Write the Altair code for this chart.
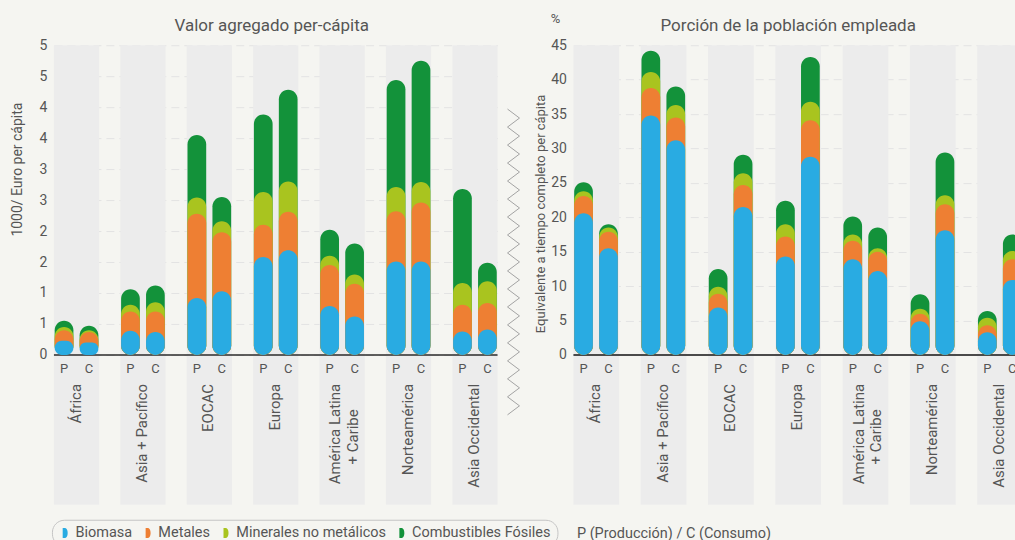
import altair as alt
import pandas as pd

# ---------------- data ----------------
regions = ["África", "Asia + Pacífico", "EOCAC", "Europa",
           "América Latina + Caribe", "Norteamérica", "Asia Occidental"]
label_line1 = ["África", "Asia + Pacífico", "EOCAC", "Europa",
               "América Latina", "Norteamérica", "Asia Occidental"]
label_line2 = ["", "", "", "", "+ Caribe", "", ""]
types = ["P", "C"]
components = ["Biomasa", "Metales", "Minerales no metálicos", "Combustibles Fósiles"]
colors = ["#29abe2", "#ee7f33", "#a9c41f", "#13923a"]

# Valor agregado per-cápita (1000 Euro per cápita)
va_biomasa_P = [0.23, 0.39, 0.92, 1.58, 0.79, 1.51, 0.38]
va_biomasa_C = [0.20, 0.37, 1.03, 1.69, 0.62, 1.51, 0.41]
va_metales_P = [0.17, 0.31, 1.36, 0.52, 0.66, 0.81, 0.43]
va_metales_C = [0.17, 0.33, 0.95, 0.62, 0.53, 0.95, 0.43]
va_minerales_P = [0.05, 0.11, 0.26, 0.53, 0.15, 0.39, 0.35]
va_minerales_C = [0.03, 0.15, 0.18, 0.49, 0.15, 0.33, 0.35]
va_fosiles_P = [0.10, 0.25, 1.01, 1.25, 0.42, 1.73, 1.52]
va_fosiles_C = [0.07, 0.27, 0.39, 1.48, 0.50, 1.96, 0.30]

# Porción de la población empleada (%)
em_biomasa_P = [20.6, 34.8, 6.9, 14.3, 13.9, 4.9, 3.3]
em_biomasa_C = [15.5, 31.2, 21.5, 28.8, 12.2, 18.1, 10.9]
em_metales_P = [2.5, 4.0, 2.0, 2.9, 2.7, 1.1, 1.0]
em_metales_C = [2.4, 3.3, 3.2, 5.3, 2.8, 3.8, 3.0]
em_minerales_P = [0.7, 2.3, 1.0, 1.8, 0.9, 0.7, 1.1]
em_minerales_C = [0.6, 1.8, 1.7, 2.7, 0.5, 1.3, 1.2]
em_fosiles_P = [1.3, 3.1, 2.6, 3.4, 2.6, 2.1, 1.0]
em_fosiles_C = [0.5, 2.7, 2.7, 6.5, 3.0, 6.2, 2.4]

# decorative zig-zag separator
zig_x = [0, 1, 0, 1, 0, 1, 0, 1, 0, 1, 0, 1, 0, 1, 0, 1, 0, 1,
         0, 1, 0, 1, 0, 1, 0, 1, 0, 1, 0, 1, 0, 1, 0, 1, 0]
zig_y = list(range(len(zig_x)))

TEXT = "#555555"
FONT = "Roboto"


def stacked_rows(P, C):
    rows = []
    for t, series in (("P", P), ("C", C)):
        for i, reg in enumerate(regions):
            cum = 0.0
            for k, comp in enumerate(components):
                cum += series[k][i]
                rows.append({"region": reg, "type": t, "component": comp,
                             "top": round(cum, 3), "draw": 3 - k})
    return pd.DataFrame(rows).sort_values("draw", kind="stable")


legend = alt.Legend(
    title=None, orient="none", legendX=-2, legendY=475, direction="horizontal",
    symbolType="M-0.5,-1L0,-1A0.5,1 0 0 1 0,1L-0.5,1Z", symbolSize=100,
    symbolStrokeWidth=0, labelFont=FONT, labelFontSize=14.5, labelColor=TEXT,
    strokeColor="#c4c4c4", cornerRadius=12, padding=6, symbolOffset=0,
    columnPadding=8, labelOffset=3,
)


def panel(df, title, title_dx, ymin, ymax, yvals, ylabel_expr, ytitle, ytitle_size,
          ytitle_x, ytitle_y, width, xaxis, zero_color, zero_width):
    xscale = alt.Scale(domain=regions, paddingInner=0.32, paddingOuter=0)
    oscale = alt.Scale(domain=types, paddingInner=0.25, paddingOuter=0.03)
    yscale = alt.Scale(domain=[ymin, ymax], nice=False)
    yaxis = alt.Axis(values=yvals, labelExpr=ylabel_expr, labelOverlap=False,
                     title=ytitle, titleFont=FONT,
                     titleFontSize=ytitle_size, titleFontWeight="normal",
                     titleColor=TEXT, titleX=ytitle_x, titleY=ytitle_y,
                     titleAngle=270, titleAlign="right", titleBaseline="middle",
                     labelFont=FONT, labelFontSize=14, labelColor=TEXT,
                     labelPadding=7, ticks=False, domain=False, grid=True,
                     gridColor="#e3e3e3", gridDash=[8, 5], gridWidth=1)

    bands = alt.Chart(pd.DataFrame({"region": regions})).mark_rect(color="#ececec").encode(
        x=alt.X("region:N", sort=regions, scale=xscale, axis=xaxis),
        y=alt.Y(datum=ymax, scale=yscale, axis=yaxis),
        y2=alt.Y2(datum=ymin),
    )
    bars = alt.Chart(df).mark_bar(cornerRadius=10).encode(
        x=alt.X("region:N", sort=regions, axis=xaxis),
        xOffset=alt.XOffset("type:N", sort=types, scale=oscale),
        y=alt.Y("top:Q", stack=None, axis=yaxis),
        y2=alt.Y2(datum=0),
        color=alt.Color("component:N", scale=alt.Scale(domain=components, range=colors),
                        legend=legend),
        order=alt.Order("draw:Q"),
    )
    zero = alt.Chart(pd.DataFrame({"z": [0]})).mark_rule(
        color=zero_color, strokeWidth=zero_width).encode(y=alt.Y("z:Q", axis=yaxis))

    pc = pd.DataFrame([{"region": r, "type": t} for r in regions for t in types])
    pc_text = alt.Chart(pc).mark_text(dy=14, font=FONT, fontSize=13, color=TEXT,
                                      baseline="middle").encode(
        x=alt.X("region:N", sort=regions, axis=xaxis),
        xOffset=alt.XOffset("type:N", sort=types),
        y=alt.Y(datum=0, axis=yaxis),
        text="type:N",
    )

    lab = pd.DataFrame({"region": regions, "l1": label_line1, "l2": label_line2})
    single = alt.Chart(lab).transform_filter("datum.l2 == ''").mark_text(
        angle=270, align="right", baseline="middle", dx=-29, dy=-1,
        font=FONT, fontSize=15, color=TEXT).encode(
        x=alt.X("region:N", sort=regions, axis=xaxis),
        y=alt.Y(datum=0, axis=yaxis), text="l1:N")
    double1 = alt.Chart(lab).transform_filter("datum.l2 != ''").mark_text(
        angle=270, align="right", baseline="middle", dx=-29, dy=-7,
        font=FONT, fontSize=15, color=TEXT).encode(
        x=alt.X("region:N", sort=regions, axis=xaxis),
        y=alt.Y(datum=0, axis=yaxis), text="l1:N")
    double2 = alt.Chart(lab).transform_filter("datum.l2 != ''").mark_text(
        angle=270, align="center", baseline="middle", dx=-82, dy=11,
        font=FONT, fontSize=15, color=TEXT).encode(
        x=alt.X("region:N", sort=regions, axis=xaxis),
        y=alt.Y(datum=0, axis=yaxis), text="l2:N")

    return alt.layer(bands, zero, bars, pc_text, single, double1, double2).properties(
        width=width, height=460,
        title=alt.TitleParams(title, font=FONT, fontSize=17, fontWeight="normal",
                              color=TEXT, frame="group", baseline="alphabetic",
                              offset=-10, dx=title_dx),
    )


va_df = stacked_rows([va_biomasa_P, va_metales_P, va_minerales_P, va_fosiles_P],
                     [va_biomasa_C, va_metales_C, va_minerales_C, va_fosiles_C])
em_df = stacked_rows([em_biomasa_P, em_metales_P, em_minerales_P, em_fosiles_P],
                     [em_biomasa_C, em_metales_C, em_minerales_C, em_fosiles_C])

left = panel(va_df, "Valor agregado per-cápita", -4, -2.419, 5,
             [0, 0.5, 1, 1.5, 2, 2.5, 3, 3.5, 4, 4.5, 5], "'' + round(datum.value)",
             "1000/ Euro per cápita", 14, -36, 57, 444, None, "#2b2b2b", 1.5)

right_xaxis = alt.Axis(labels=False, ticks=False, domain=False, grid=False,
                       title="P (Producción) / C (Consumo)", titleFont=FONT,
                       titleFontSize=14.5, titleFontWeight="normal", titleColor=TEXT,
                       titleAnchor="start", titleAlign="left", titleBaseline="middle",
                       titleX=3, titleY=29)

right = panel(em_df, "Porción de la población empleada", -10, -21.77, 45,
              list(range(0, 50, 5)), "'' + round(datum.value)",
              "Equivalente a tiempo completo per cápita", 13, -33, 49, 450,
              right_xaxis, "#4a4a4a", 2)

# zig-zag panel: 56 px wide, the line itself occupies its first 12 px;
# it also carries the "%" unit note that sits above the right-hand axis
zig_line = alt.Chart(pd.DataFrame({"zx": zig_x, "zy": zig_y})).mark_line(
    color="#a3a3a3", strokeWidth=1).encode(
    x=alt.X("zx:Q", axis=None, scale=alt.Scale(domain=[0, 56 / 12])),
    y=alt.Y("zy:Q", axis=None, scale=alt.Scale(domain=[-7.1, 44], reverse=True)),
    order="zy:Q",
)
pct = alt.Chart(pd.DataFrame({"t": ["%"]})).mark_text(
    font=FONT, fontSize=13, color=TEXT, baseline="middle").encode(
    x=alt.value(48), y=alt.value(-26), text="t:N")
zig = alt.layer(zig_line, pct).properties(width=56, height=460)

chart = alt.hconcat(left, zig, right, spacing=10).properties(
    bounds="flush", background="#f5f5f1",
    padding={"left": 11, "top": 13, "right": -9, "bottom": 0},
).configure(font=FONT).configure_view(stroke=None)

chart.save("out.html", embed_options={"renderer": "svg", "actions": False})
